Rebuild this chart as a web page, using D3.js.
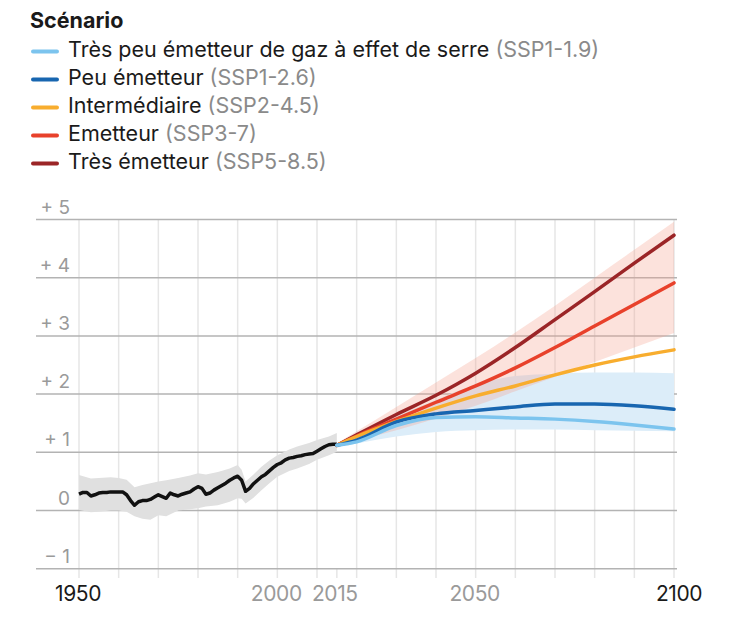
<!DOCTYPE html>
<html>
<head>
<meta charset="utf-8">
<script src="https://cdn.jsdelivr.net/npm/d3@7"></script>
<style>
  html, body { margin: 0; padding: 0; background: #fff; }
  svg { display: block; font-family: Inter, Roboto, "Liberation Sans", sans-serif; }
</style>
</head>
<body>
<svg id="chart" width="743" height="620"></svg>
<script>
// ---------- DATA ----------
const legendTitle = "Scénario";
const scenarioNames = [
  "Très peu émetteur de gaz à effet de serre",
  "Peu émetteur",
  "Intermédiaire",
  "Emetteur",
  "Très émetteur"
];
const scenarioCodes = ["(SSP1-1.9)", "(SSP1-2.6)", "(SSP2-4.5)", "(SSP3-7)", "(SSP5-8.5)"];
const scenarioColors = ["#7cc4ee", "#1866b0", "#f8ad2e", "#e8412b", "#9b2527"];

const yTicks = [-1, 0, 1, 2, 3, 4, 5];
const yTickLabels = ["− 1", "0", "+ 1", "+ 2", "+ 3", "+ 4", "+ 5"];
const xGridYears = [1950, 1960, 1970, 1980, 1990, 2000, 2010, 2020, 2030, 2040, 2050, 2060, 2070, 2080, 2090, 2100];
const xLabelYears = [1950, 2000, 2015, 2050, 2100];
const xLabelDark = [true, false, false, false, true];

// historical (observed) warming
const histYears = d3.range(1950, 2016);
const histValues = [
  0.28, 0.31, 0.31, 0.25, 0.27, 0.30, 0.31, 0.31, 0.32, 0.32,
  0.32, 0.32, 0.27, 0.17, 0.09, 0.15, 0.17, 0.17, 0.19, 0.23,
  0.27, 0.24, 0.21, 0.30, 0.27, 0.25, 0.28, 0.30, 0.32, 0.37,
  0.41, 0.38, 0.28, 0.30, 0.35, 0.39, 0.43, 0.47, 0.52, 0.56,
  0.59, 0.52, 0.33, 0.38, 0.46, 0.52, 0.58, 0.62, 0.68, 0.74,
  0.79, 0.82, 0.87, 0.90, 0.91, 0.93, 0.94, 0.96, 0.97, 0.98,
  1.02, 1.06, 1.10, 1.13, 1.14, 1.14
];
const histBandYears = [1950, 1953, 1955, 1958, 1960, 1962, 1964, 1966, 1968, 1970, 1972, 1975, 1978, 1980, 1982, 1985, 1988, 1990, 1991, 1992, 1994, 1996, 1998, 2000, 2003, 2005, 2008, 2010, 2013, 2015];
const histBandUpper = [0.61, 0.55, 0.56, 0.57, 0.56, 0.53, 0.40, 0.44, 0.47, 0.50, 0.52, 0.56, 0.60, 0.64, 0.62, 0.66, 0.72, 0.78, 0.70, 0.50, 0.62, 0.75, 0.86, 0.95, 1.05, 1.10, 1.16, 1.21, 1.27, 1.33];
const histBandLower = [0.01, -0.03, -0.02, 0.00, 0.00, -0.02, -0.10, -0.14, -0.16, -0.08, -0.10, 0.00, 0.02, 0.04, 0.07, 0.09, 0.15, 0.21, 0.20, 0.12, 0.22, 0.35, 0.47, 0.58, 0.68, 0.72, 0.80, 0.87, 0.95, 1.01];

// projections
const projYears = [2015, 2020, 2030, 2040, 2050, 2060, 2070, 2080, 2090, 2100];
const ssp119 = [1.12, 1.18, 1.46, 1.60, 1.61, 1.59, 1.57, 1.53, 1.47, 1.40];
const ssp126 = [1.12, 1.21, 1.52, 1.66, 1.72, 1.78, 1.83, 1.83, 1.80, 1.74];
const ssp245 = [1.12, 1.27, 1.53, 1.76, 1.97, 2.14, 2.33, 2.50, 2.64, 2.76];
const ssp370 = [1.12, 1.28, 1.57, 1.86, 2.14, 2.45, 2.80, 3.17, 3.54, 3.91];
const ssp585 = [1.12, 1.30, 1.65, 1.98, 2.36, 2.80, 3.28, 3.76, 4.25, 4.73];

// uncertainty ranges
const lowBandUpper = [1.14, 1.30, 1.62, 1.90, 2.16, 2.31, 2.35, 2.37, 2.37, 2.36];
const lowBandLower = [1.08, 1.15, 1.27, 1.35, 1.38, 1.39, 1.39, 1.38, 1.37, 1.36];
const highBandUpper = [1.15, 1.36, 1.78, 2.20, 2.62, 3.06, 3.52, 4.00, 4.48, 4.96];
const highBandLower = [1.10, 1.20, 1.38, 1.58, 1.80, 2.05, 2.30, 2.55, 2.80, 3.05];

const projSeries = [ssp119, ssp126, ssp245, ssp370, ssp585];

// ---------- CHART ----------
const svg = d3.select("#chart");
const x = d3.scaleLinear().domain([1950, 2100]).range([79, 674]);
const y = d3.scaleLinear().domain([-1, 5]).range([568.7, 219.5]);

// vertical grid
svg.append("g").selectAll("line").data(xGridYears).join("line")
  .attr("x1", d => x(d)).attr("x2", d => x(d))
  .attr("y1", y(5)).attr("y2", 578)
  .attr("stroke", "#e6e6e6").attr("stroke-width", 1.5);
// 2015 tick
svg.append("line")
  .attr("x1", x(2015)).attr("x2", x(2015))
  .attr("y1", y(-1)).attr("y2", 578)
  .attr("stroke", "#e6e6e6").attr("stroke-width", 1.5);

// horizontal grid
svg.append("g").selectAll("line").data(yTicks).join("line")
  .attr("x1", 36).attr("x2", 677)
  .attr("y1", d => y(d)).attr("y2", d => y(d))
  .attr("stroke", "#b3b3b3").attr("stroke-width", 1.5);

// y labels
svg.append("g").selectAll("text").data(yTicks).join("text")
  .attr("x", 70).attr("y", d => y(d) - 6)
  .attr("text-anchor", "end")
  .attr("font-size", 19).attr("fill", "#9a9a9a")
  .text((d, i) => yTickLabels[i]);

// x labels
svg.append("g").selectAll("text").data(xLabelYears).join("text")
  .attr("x", (d, i) => x(d) + (d === 2100 ? 5 : (d === 2015 ? -2 : -1)))
  .attr("y", 601)
  .attr("text-anchor", "middle")
  .attr("font-size", 21)
  .attr("letter-spacing", -0.4)
  .attr("fill", (d, i) => xLabelDark[i] ? "#1a1a1a" : "#9a9a9a")
  .text(d => d);

// bands
const area = (yrs, lo, hi, curve) => d3.area()
  .x((d, i) => x(yrs[i]))
  .y0((d, i) => y(lo[i]))
  .y1((d, i) => y(hi[i]))
  .curve(curve)(yrs);

svg.append("path").attr("d", area(histBandYears, histBandLower, histBandUpper, d3.curveLinear))
  .attr("fill", "#e0e0e0");
svg.append("path").attr("d", area(projYears, lowBandLower, lowBandUpper, d3.curveMonotoneX))
  .attr("fill", "#dcedf9");
svg.append("path").attr("d", area(projYears, highBandLower, highBandUpper, d3.curveMonotoneX))
  .attr("fill", "#f4a08a").attr("fill-opacity", 0.3);

// historical line
const histLine = d3.line().x((d, i) => x(histYears[i])).y(d => y(d)).curve(d3.curveLinear);
svg.append("path").attr("d", histLine(histValues))
  .attr("fill", "none").attr("stroke", "#111").attr("stroke-width", 3.5)
  .attr("stroke-linejoin", "round");

// projection lines (draw highest first so low scenarios sit on top)
const projLine = d3.line().x((d, i) => x(projYears[i])).y(d => y(d)).curve(d3.curveMonotoneX);
for (let k = projSeries.length - 1; k >= 0; k--) {
  svg.append("path").attr("d", projLine(projSeries[k]))
    .attr("fill", "none").attr("stroke", scenarioColors[k]).attr("stroke-width", 3.5)
    .attr("stroke-linecap", "round");
}

// legend
svg.append("text").attr("x", 30).attr("y", 28)
  .attr("font-size", 21.5).attr("font-weight", 700).attr("fill", "#1a1a1a")
  .text(legendTitle);

const leg = svg.append("g").selectAll("g").data(scenarioNames).join("g")
  .attr("transform", (d, i) => `translate(0, ${57 + i * 28})`);
leg.append("line")
  .attr("x1", 33).attr("x2", 57).attr("y1", -5.5).attr("y2", -5.5)
  .attr("stroke", (d, i) => scenarioColors[i]).attr("stroke-width", 4)
  .attr("stroke-linecap", "round");
const lt = leg.append("text").attr("x", 68).attr("y", 0).attr("font-size", 21.5);
lt.append("tspan").attr("fill", "#1a1a1a").text(d => d + " ");
lt.append("tspan").attr("fill", "#8a8a8a").text((d, i) => scenarioCodes[i]);
</script>
</body>
</html>
